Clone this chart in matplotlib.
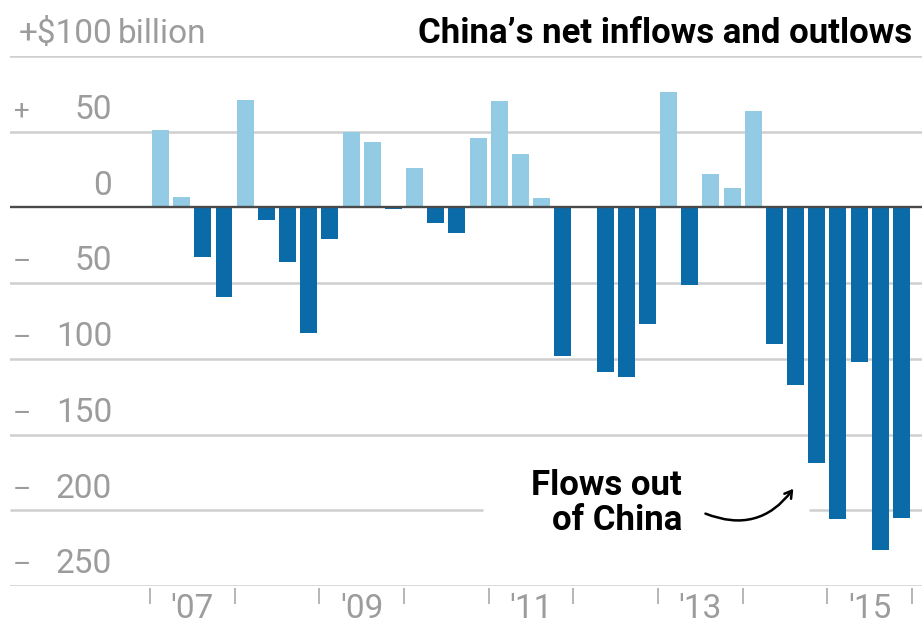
import numpy as np
import matplotlib
matplotlib.use("Agg")
import matplotlib.pyplot as plt

## China's net capital flows, quarterly, billions of dollars (2007 Q1 - 2015 Q4)
years = [2007, 2008, 2009, 2010, 2011, 2012, 2013, 2014, 2015]
year_labels = ["'07", "'09", "'11", "'13", "'15"]
label_years = [2007, 2009, 2011, 2013, 2015]
flows = [51, 7, -33, -59,
         71, -8, -36, -83,
         -21, 50, 43, -1,
         26, -10, -17, 46,
         70, 35, 6, -98,
         0, -109, -112, -77,
         76, -51, 22, 13,
         64, -90, -117, -169,
         -206, -102, -226, -205]
grid_vals = [100, 50, -50, -100, -150, -200, -250]
tick_text = {100: "+$100", 50: "50", 0: "0", -50: "50", -100: "100",
             -150: "150", -200: "200", -250: "250"}

light_blue = "#93cbe4"
dark_blue = "#0b6aa8"
grid_col = "#cfcfcf"
text_col = "#9c9c9c"
font = "Roboto"

fig = plt.figure(figsize=(9.22, 6.24), dpi=100)
ax = fig.add_axes([10 / 922, 1 - 586 / 624, 912 / 922, 530 / 624])
xmin, xmax = -7.11, 35.97
ax.set_xlim(xmin, xmax)
ax.set_ylim(-250, 100)
ax.axis("off")

x = np.arange(len(flows))
vals = np.array(flows)
colors = [light_blue if v > 0 else dark_blue for v in vals]
ax.bar(x, vals, width=0.8, color=colors, zorder=2)

# gridlines, the -200 one is broken for the annotation
for g in grid_vals:
    if g == -200:
        ax.hlines(g, xmin, 15.23, color=grid_col, lw=1.8, zorder=1)
        ax.hlines(g, 30.63, xmax, color=grid_col, lw=1.8, zorder=1)
    else:
        ax.axhline(g, color=grid_col, lw=1.8, zorder=1)
ax.axhline(0, color="#4a4a4a", lw=1.7, zorder=3)

# y labels sit above their lines
ytr = ax.get_yaxis_transform()
for v, t in tick_text.items():
    ax.text(0.112, v + 8.4, t, transform=ytr, ha="right", va="baseline",
            fontsize=24, color=text_col, family=font)
    if v > 0 and v != 100:
        ax.text(0.0135, v + 8.4, "+", transform=ytr, ha="center", va="baseline",
                fontsize=20, color=text_col, family=font)
    elif v < 0:
        ax.text(0.0135, v + 8.4, "\u2013", transform=ytr, ha="center", va="baseline",
                fontsize=20, color=text_col, family=font)
ax.text(0.118, 100 + 8.4, "billion", transform=ytr, ha="left", va="baseline",
        fontsize=24, color=text_col, family=font)

ax.text(0.9895, 100 + 8.4, "China\u2019s net inflows and outlows", transform=ytr,
        ha="right", va="baseline", fontsize=25, fontweight="bold",
        color="black", family=font)

# year ticks and labels
bounds = [4 * i - 0.5 for i in range(len(years) + 1)]
ax.vlines(bounds, -251.5, -262, color="#b0b0b0", lw=1.3, clip_on=False)
for yr, lab in zip(label_years, year_labels):
    xc = 4 * years.index(yr) + 1.5
    ax.text(xc, -254.5, lab, ha="center", va="top", fontsize=24,
            color=text_col, family=font, clip_on=False)

# annotation
ax.text(24.63, -195, "Flows out\nof China", ha="right", va="center",
        fontsize=25, fontweight="bold", color="black", family=font,
        linespacing=1.08)
ax.annotate("", xy=(29.97, -184.3), xytext=(25.62, -201.5),
            arrowprops=dict(arrowstyle="->,head_length=0.5,head_width=0.3",
                            connectionstyle="arc3,rad=0.4",
                            color="black", lw=1.8))

fig.savefig("out.png", dpi=100)
